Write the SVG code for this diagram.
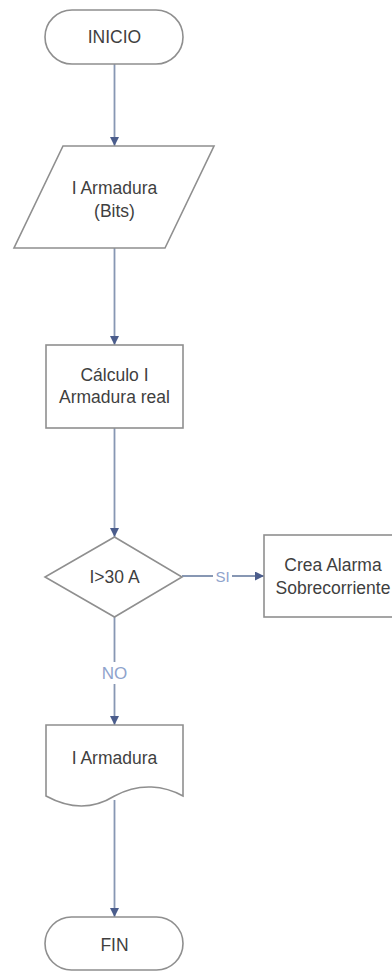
<svg xmlns="http://www.w3.org/2000/svg" width="392" height="971" viewBox="0 0 392 971">
<style>
.shape{fill:#ffffff;stroke:#8f8f8f;stroke-width:1.6}
.t{font-family:"Liberation Sans",Arial,sans-serif;font-size:17.5px;fill:#3f3f3f;text-anchor:middle}
.lbl{font-family:"Liberation Sans",Arial,sans-serif;font-size:17px;fill:#8fa3cc;text-anchor:middle}
.si{font-size:15px}
.c{fill:none;stroke:#8797b3;stroke-width:1.8}
</style>
<defs>
<marker id="ah" viewBox="0 0 10 10" refX="10" refY="5" markerWidth="9" markerHeight="9" markerUnits="userSpaceOnUse" orient="auto">
<path d="M0,0 L10,5 L0,10 Z" fill="#4b5d8c"/>
</marker>
</defs>
<rect width="392" height="971" fill="#ffffff"/>
<g id="connectors">
<line class="c" x1="114.5" y1="64" x2="114.5" y2="146" marker-end="url(#ah)"/>
<line class="c" x1="114.5" y1="248" x2="114.5" y2="345" marker-end="url(#ah)"/>
<line class="c" x1="114.5" y1="428" x2="114.5" y2="537" marker-end="url(#ah)"/>
<line class="c" x1="182" y1="576" x2="264" y2="576" marker-end="url(#ah)"/>
<line class="c" x1="114.5" y1="617" x2="114.5" y2="725" marker-end="url(#ah)"/>
<line class="c" x1="114.5" y1="800" x2="114.5" y2="917" marker-end="url(#ah)"/>
<rect x="213" y="567" width="19" height="17" fill="#ffffff"/>
<text class="lbl si" x="222.5" y="581.5">SI</text>
<rect x="101" y="662" width="27" height="22" fill="#ffffff"/>
<text class="lbl" x="114.5" y="679">NO</text>
</g>
<g id="inicio">
<rect class="shape" x="45" y="10" width="138" height="54" rx="27" ry="27"/>
<text class="t" x="114.5" y="43">INICIO</text>
</g>
<g id="entrada">
<polygon class="shape" points="63,146 214,146 165,248 14,248"/>
<text class="t" x="114.5" y="194">I Armadura</text>
<text class="t" x="114.5" y="217">(Bits)</text>
</g>
<g id="calculo">
<rect class="shape" x="46" y="345" width="137" height="83"/>
<text class="t" x="114.5" y="381">Cálculo I</text>
<text class="t" x="114.5" y="403">Armadura real</text>
</g>
<g id="decision">
<polygon class="shape" points="114.5,537 182,577 114.5,617 45,577"/>
<text class="t" x="114.5" y="583">I&gt;30 A</text>
</g>
<g id="alarma">
<rect class="shape" x="264" y="535" width="140" height="82"/>
<text class="t" x="333" y="571">Crea Alarma</text>
<text class="t" x="333" y="594">Sobrecorriente</text>
</g>
<g id="salida">
<path class="shape" d="M46,725 L183,725 L183,796 C165,786 140,782 114.5,796 C92,810 68,808 46,796 Z"/>
<text class="t" x="114.5" y="764">I Armadura</text>
</g>
<g id="fin">
<rect class="shape" x="45" y="917" width="138" height="53" rx="26.5" ry="26.5"/>
<text class="t" x="114.5" y="951">FIN</text>
</g>
</svg>
